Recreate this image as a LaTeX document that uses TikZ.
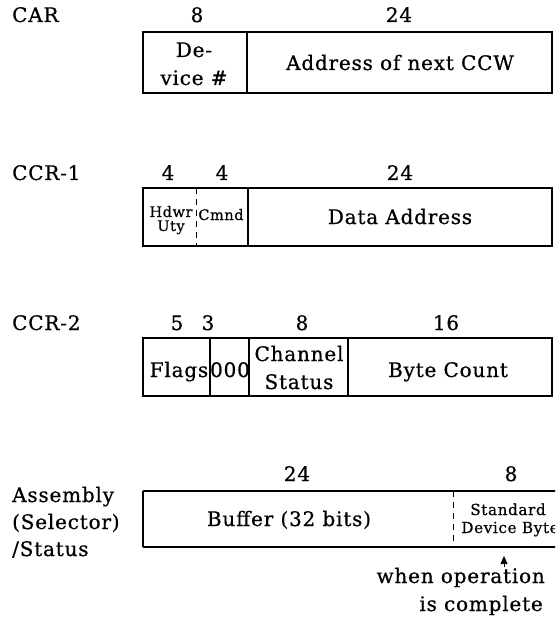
\documentclass[tikz,border=0pt]{standalone}
\usepackage{fontspec}
\newfontfamily\regfont{DejaVu Serif}[LetterSpace=4,FakeBold=0.7]
\newfontfamily\tinyfont{DejaVu Serif}[LetterSpace=4,FakeBold=0.5]
\usetikzlibrary{arrows.meta}
\tikzset{
  lbl/.style={font=\regfont\fontsize{20}{22}\selectfont, inner sep=0pt, anchor=base},
  lblw/.style={lbl, anchor=base west},
  lble/.style={lbl, anchor=base east},
  sml/.style={font=\tinyfont\fontsize{14.5}{15}\selectfont, inner sep=0pt, anchor=base},
  smlbig/.style={sml, font=\tinyfont\fontsize{15.2}{16}\selectfont},
  frame/.style={line width=1.4pt, line join=miter},
  divider/.style={line width=1.3pt},
  dashdiv/.style={line width=1pt, dash pattern=on 6pt off 5pt},
}
\begin{document}
\begin{tikzpicture}[x=1pt,y=-1pt]
\useasboundingbox (0,0) rectangle (555,620);
\clip (0,0) rectangle (555,620);
\fill[white] (0,0) rectangle (555,620);

% ---- CAR ----
\node[lblw] (carname) at (12,22) {CAR};
\node[lbl] (carbits1) at (197,22) {8};
\node[lbl] (carbits2) at (399,22) {24};
\draw[frame] (143,32) rectangle (552,93);
\draw[divider] (247,32) -- (247,93);
\node[lbl] (cardev1) at (194,57) {De-};
\node[lbl] (cardev2) at (194,85) {vice \#};
\node[lbl] (caraddr) at (400,70) {Address of next CCW};

% ---- CCR-1 ----
\node[lblw] (c1name) at (12,180) {CCR-1};
\node[lbl] (c1bits1) at (168,180) {4};
\node[lbl] (c1bits2) at (222,180) {4};
\node[lbl] (c1bits3) at (400,180) {24};
\draw[frame] (143,188) rectangle (552,246);
\draw[dashdiv] (196,188) -- (196,246);
\draw[divider] (248,188) -- (248,246);
\node[sml] (c1hw1) at (171,217) {Hdwr};
\node[sml] (c1hw2) at (171,231) {Uty};
\node[sml] (c1cmd) at (221,220) {Cmnd};
\node[lbl] (c1data) at (400,224) {Data Address};

% ---- CCR-2 ----
\node[lblw] (c2name) at (12,330) {CCR-2};
\node[lbl] (c2bits1) at (177,330) {5};
\node[lbl] (c2bits2) at (208,330) {3};
\node[lbl] (c2bits3) at (302,330) {8};
\node[lbl] (c2bits4) at (446,330) {16};
\draw[frame] (143,338) rectangle (552,396);
\draw[divider] (210,338) -- (210,396);
\draw[divider] (249,338) -- (249,396);
\draw[divider] (348,338) -- (348,396);
\node[lbl] (c2flags) at (179,377) {Flags};
\node[lbl] (c2zero) at (230,377) {000};
\node[lbl] (c2chan1) at (299,361) {Channel};
\node[lbl] (c2chan2) at (299,389) {Status};
\node[lbl] (c2count) at (448,377) {Byte Count};

% ---- Assembly / Status ----
\node[lblw] (asname1) at (12,502) {Assembly};
\node[lblw] (asname2) at (12,529) {(Selector)};
\node[lblw] (asname3) at (12,556) {/Status};
\node[lbl] (asbits1) at (297,481) {24};
\node[lbl] (asbits2) at (511,481) {8};
\draw[frame] (143,491) -- (565,491);
\draw[frame] (143,547) -- (565,547);
\draw[frame] (143,491) -- (143,547);
\draw[dashdiv] (453,491) -- (453,547);
\node[lbl] (asbuf) at (289,526) {Buffer (32 bits)};
\node[smlbig] (asstd1) at (508,515) {Standard};
\node[smlbig] (asstd2) at (510,533) {Device Byte};

% ---- note under the status byte ----
\coordinate (tipfoot) at (504,567);
\coordinate (tiphead) at (504,556);
\draw[-{Triangle[length=8pt,width=7pt]}, line width=0.7pt] (tipfoot) -- (tiphead);
\node[lble] (note1) at (545,583) {when operation};
\node[lble] (note2) at (543,611) {is complete};
\end{tikzpicture}
\end{document}
